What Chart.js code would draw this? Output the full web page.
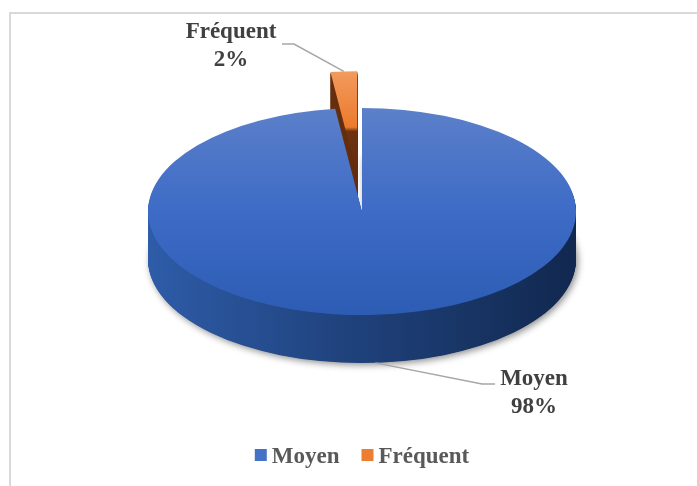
<!DOCTYPE html>
<html>
<head>
<meta charset="utf-8">
<script src="https://cdn.jsdelivr.net/npm/chart.js@4.4.0/dist/chart.umd.min.js"></script>
<style>
    html, body { margin: 0; padding: 0; background: #fff; }
    canvas { display: block; }
</style>
</head>
<body>
<canvas id="pieChart" width="697" height="486"></canvas>
<script>
const labels = ['Moyen', 'Fréquent'];
const values = [98, 2];
const legendColors = ['#4472c4', '#ed7d31'];
const explode = [0, 76];

// 3d look
const CY = 211.5;
const K = 0.484;
const DEPTH = 48;
const FONT = 'bold 23px "Liberation Serif", "Times New Roman", serif';

function topFill(context) {
    const chart = context.chart;
    const area = chart.chartArea;
    if (!area) return legendColors[context.dataIndex];
    const g = chart.ctx.createLinearGradient(0, area.top, 0, area.bottom);
    if (context.dataIndex === 0) {
        g.addColorStop(0, '#5c80ca');
        g.addColorStop(0.5, '#3d6bc6');
        g.addColorStop(1, '#2d5cb4');
    } else {
        g.addColorStop(0, '#f29a5e');
        g.addColorStop(0.27, '#ec7a2c');
        g.addColorStop(0.29, '#6e3210');
        g.addColorStop(1, '#4a2009');
    }
    return g;
}

function sideFill(ctx, i) {
    const g = ctx.createLinearGradient(148, 0, 576, 0);
    if (i === 0) {
        g.addColorStop(0, '#2e5ca8');
        g.addColorStop(0.45, '#20437e');
        g.addColorStop(1, '#11284f');
    } else {
        g.addColorStop(0, '#7a3810');
        g.addColorStop(1, '#4a2009');
    }
    return g;
}

function shift(arc, i) {
    const p = arc.getProps(['startAngle', 'endAngle']);
    const mid = (p.startAngle + p.endAngle) / 2;
    return { dx: Math.cos(mid) * explode[i], dy: Math.sin(mid) * explode[i] };
}

const pie3d = {
    id: 'pie3d',
    beforeDatasetDraw(chart, args) {
        const ctx = chart.ctx;
        const arcs = args.meta.data;
        const cy = arcs[0].y;
        ctx.save();
        ctx.translate(0, CY);
        ctx.scale(1, K);
        ctx.translate(0, -cy);

        // side walls
        arcs.forEach((arc, i) => {
            const p = arc.getProps(['x', 'y', 'startAngle', 'endAngle', 'outerRadius']);
            const s = shift(arc, i);
            const fill = sideFill(ctx, i);
            for (let d = DEPTH; d >= 1; d -= 0.5) {
                ctx.save();
                if (d === DEPTH && i === 0) {
                    ctx.shadowColor = 'rgba(0, 0, 0, 0.45)';
                    ctx.shadowBlur = 7;
                    ctx.shadowOffsetX = 2;
                    ctx.shadowOffsetY = 2;
                }
                ctx.beginPath();
                ctx.moveTo(p.x + s.dx, p.y + s.dy + d / K);
                ctx.arc(p.x + s.dx, p.y + s.dy + d / K, p.outerRadius, p.startAngle, p.endAngle);
                ctx.closePath();
                ctx.fillStyle = fill;
                ctx.fill();
                ctx.restore();
            }
        });

        // top faces
        arcs.forEach((arc, i) => {
            const s = shift(arc, i);
            ctx.save();
            ctx.translate(s.dx, s.dy);
            arc.draw(ctx);
            ctx.restore();
        });

        ctx.restore();
        return false;
    },
    afterDraw(chart) {
        const ctx = chart.ctx;
        const arcs = chart.getDatasetMeta(0).data;
        const total = values.reduce((a, b) => a + b, 0);

        // frame
        ctx.save();
        ctx.strokeStyle = '#d9d9d9';
        ctx.lineWidth = 2;
        ctx.beginPath();
        ctx.moveTo(10, 490);
        ctx.lineTo(10, 13);
        ctx.lineTo(700, 13);
        ctx.stroke();
        ctx.restore();

        // anchors on the slices
        const anchors = arcs.map((arc, i) => {
            const p = arc.getProps(['x', 'startAngle', 'endAngle', 'outerRadius']);
            const mid = (p.startAngle + p.endAngle) / 2;
            const r = p.outerRadius + explode[i];
            const x = p.x + Math.cos(mid) * r;
            let y = CY + Math.sin(mid) * r * K;
            if (Math.sin(mid) > 0) y += DEPTH;
            return { x, y };
        });

        const labelPos = [
            { x: 534, y: 385, elbow: [[482, 384], [495, 384]] },
            { x: 231, y: 38, elbow: [[294, 44], [282, 44]] },
        ];

        ctx.save();
        ctx.strokeStyle = '#a6a6a6';
        ctx.lineWidth = 1.5;
        labelPos.forEach((lp, i) => {
            ctx.beginPath();
            ctx.moveTo(anchors[i].x, anchors[i].y);
            lp.elbow.forEach((pt) => ctx.lineTo(pt[0], pt[1]));
            ctx.stroke();
        });

        ctx.font = FONT;
        ctx.fillStyle = '#404040';
        ctx.textAlign = 'center';
        ctx.textBaseline = 'alphabetic';
        labelPos.forEach((lp, i) => {
            const pct = Math.round((values[i] / total) * 100) + '%';
            ctx.fillText(labels[i], lp.x, lp.y);
            ctx.fillText(pct, lp.x, lp.y + 28);
        });

        // legend
        const box = 12, gapBox = 5, gapItem = 22;
        const widths = labels.map((l) => ctx.measureText(l).width);
        const totalW = widths.reduce((a, w) => a + box + gapBox + w, 0) + gapItem * (labels.length - 1);
        let x = 362 - totalW / 2;
        ctx.textAlign = 'left';
        labels.forEach((l, i) => {
            ctx.fillStyle = legendColors[i];
            ctx.fillRect(x, 449, box, box);
            x += box + gapBox;
            ctx.fillStyle = '#595959';
            ctx.fillText(l, x, 463);
            x += widths[i] + gapItem;
        });
        ctx.restore();
    },
};

const ctxPie = document.getElementById('pieChart').getContext('2d');
const pieChart = new Chart(ctxPie, {
    type: 'pie',
    data: {
        labels: labels,
        datasets: [
            {
                data: values,
                backgroundColor: topFill,
                borderWidth: 0,
            },
        ],
    },
    options: {
        responsive: false,
        animation: false,
        layout: {
            padding: { left: 148, right: 121, top: 0, bottom: 58 },
        },
        plugins: {
            legend: { display: false },
            tooltip: { enabled: false },
        },
    },
    plugins: [pie3d],
});
</script>
</body>
</html>
